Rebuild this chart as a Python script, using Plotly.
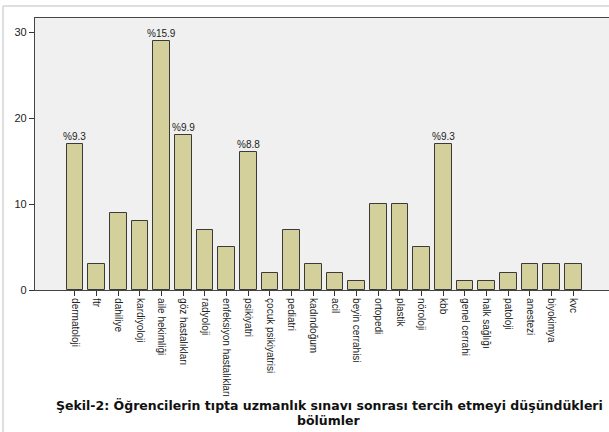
import plotly.graph_objects as go

categories = ["dermatoloji", "ftr", "dahiliye", "kardiyoloji", "aile hekimliği",
              "göz hastalıkları", "radyoloji", "enfeksiyon hastalıkları", "psikiyatri",
              "çocuk psikiyatrisi", "pediatri", "kadındoğum", "acil", "beyin cerrahisi",
              "ortopedi", "plastik", "nöroloji", "kbb", "genel cerrahi", "halk sağlığı",
              "patoloji", "anestezi", "biyokimya", "kvc"]
counts = [17, 3, 9, 8, 29, 18, 7, 5, 16, 2, 7, 3, 2, 1, 10, 10, 5, 17, 1, 1, 2, 3, 3, 3]
pct_labels = {"dermatoloji": "%9.3", "aile hekimliği": "%15.9", "göz hastalıkları": "%9.9",
              "psikiyatri": "%8.8", "kbb": "%9.3"}
y_ticks = [0, 10, 20, 30]
caption_lines = ["Şekil-2: Öğrencilerin tıpta uzmanlık sınavı sonrası tercih etmeyi düşündükleri",
                 "bölümler"]

W, H = 609, 432
ml, mr, mt, mb = 35, 0, 18, 142
pw, ph = W - ml - mr, H - mt - mb

idx = list(range(len(categories)))

fig = go.Figure()
fig.add_trace(go.Bar(
    x=idx, y=counts, width=0.77,
    marker=dict(color="#d4d09b", line=dict(color="#3a3a3a", width=1)),
    hoverinfo="skip",
))

for cat, txt in pct_labels.items():
    i = categories.index(cat)
    fig.add_annotation(x=i, y=counts[i], text=txt, showarrow=False,
                       yanchor="bottom", yshift=0,
                       font=dict(family="Liberation Sans, Arial", size=10, color="#222"))

def px(xp):
    return (xp - ml) / pw

def py(yp):
    return (H - mb - yp) / ph

# outer light frame
fig.add_shape(type="line", xref="paper", yref="paper", x0=px(3), x1=px(W + 5),
              y0=py(6), y1=py(6), line=dict(color="#d4d4d4", width=1.5))
fig.add_shape(type="line", xref="paper", yref="paper", x0=px(3), x1=px(3),
              y0=py(6), y1=py(H + 5), line=dict(color="#d4d4d4", width=1.5))

for line_text, ypix in zip(caption_lines, [405, 420]):
    fig.add_annotation(xref="paper", yref="paper", x=px(329), y=py(ypix),
                       xanchor="center", yanchor="middle", showarrow=False,
                       text="<b>" + line_text + "</b>",
                       font=dict(family="DejaVu Sans", size=12.5, color="#111"))

fig.update_layout(
    width=W, height=H,
    margin=dict(l=ml, r=mr, t=mt, b=mb, pad=0),
    paper_bgcolor="white", plot_bgcolor="#f0f0f0",
    showlegend=False,
    bargap=0,
    xaxis=dict(range=[-1.84, 24.65], tickmode="array", tickvals=idx, ticktext=categories,
               tickangle=90, ticks="outside", ticklen=5, tickcolor="#333",
               showline=True, linecolor="#444", linewidth=1.2, mirror=True,
               showgrid=False, zeroline=False, automargin=False,
               tickfont=dict(family="Liberation Sans, Arial", size=10, color="#222")),
    yaxis=dict(range=[0, 31.63], tickmode="array", tickvals=y_ticks,
               ticks="outside", ticklen=5, tickcolor="#333",
               showline=True, linecolor="#444", linewidth=1.2,
               showgrid=False, zeroline=False, automargin=False,
               tickfont=dict(family="Liberation Sans, Arial", size=11, color="#222")),
)

fig.write_html("out.html", config={"displayModeBar": False},
               post_script="document.body.style.margin='0px';document.body.style.overflow='hidden';")
